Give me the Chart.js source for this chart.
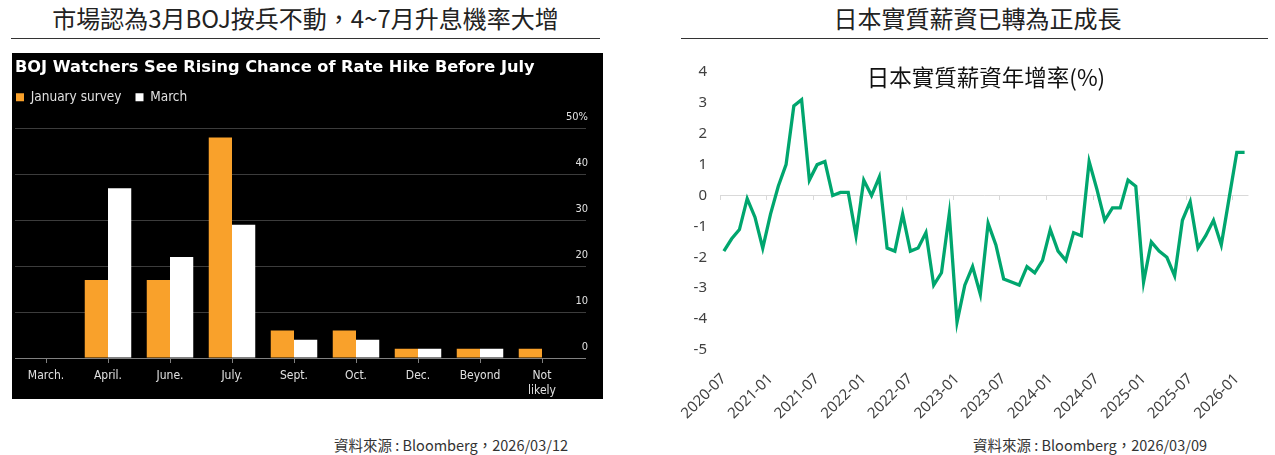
<!DOCTYPE html>
<html>
<head>
<meta charset="utf-8">
<script src="https://cdn.jsdelivr.net/npm/chart.js@4.4.1/dist/chart.umd.min.js"></script>
<style>
  body { margin: 0; width: 1275px; height: 455px; background: #fff; position: relative; overflow: hidden; }
  .hd { position: absolute; top: 3px; height: 30px; line-height: 30px; text-align: center;
        font-family: "Noto Sans CJK TC", sans-serif; font-size: 24px; color: #222; }
  .rule { position: absolute; top: 38px; height: 1px; background: #333; }
  .src { position: absolute; top: 434px; font-family: "Noto Sans CJK TC", sans-serif; font-size: 14.5px; color: #333; white-space: nowrap; }
  #bojChart { position: absolute; left: 12px; top: 53px; background: #000; }
  #wageChart { position: absolute; left: 660px; top: 50px; }
  #wageTitle { position: absolute; left: 860px; width: 252px; top: 60px; text-align: center;
               font-family: "Noto Sans CJK TC", sans-serif; font-size: 22.5px; line-height: 32px; color: #111; }
</style>
</head>
<body>
<div class="hd" style="left:11px;width:589px">市場認為3月BOJ按兵不動，4~7月升息機率大增</div>
<div class="rule" style="left:11px;width:589px"></div>
<canvas id="bojChart" width="591" height="346"></canvas>
<div class="src" style="right:707px">資料來源 : Bloomberg，2026/03/12</div>

<div class="hd" style="left:681px;width:593px">日本實質薪資已轉為正成長</div>
<div class="rule" style="left:681px;width:587px"></div>
<canvas id="wageChart" width="610" height="380"></canvas>
<div id="wageTitle">日本實質薪資年增率(%)</div>
<div class="src" style="right:68px">資料來源 : Bloomberg，2026/03/09</div>

<script>
// 左圖：BOJ 升息時點調查 (%)
const bojMonths = ['March.', 'April.', 'June.', 'July.', 'Sept.', 'Oct.', 'Dec.', 'Beyond', ['Not', 'likely']];
const januarySurvey = [0, 17, 17, 48, 6, 6, 2, 2, 2];
const marchSurvey = [0, 37, 22, 29, 4, 4, 2, 2, 0];

// 右圖：日本實質薪資年增率 (%)
const wageMonths = [
  '2020-07', '2020-08', '2020-09', '2020-10', '2020-11', '2020-12',
  '2021-01', '2021-02', '2021-03', '2021-04', '2021-05', '2021-06',
  '2021-07', '2021-08', '2021-09', '2021-10', '2021-11', '2021-12',
  '2022-01', '2022-02', '2022-03', '2022-04', '2022-05', '2022-06',
  '2022-07', '2022-08', '2022-09', '2022-10', '2022-11', '2022-12',
  '2023-01', '2023-02', '2023-03', '2023-04', '2023-05', '2023-06',
  '2023-07', '2023-08', '2023-09', '2023-10', '2023-11', '2023-12',
  '2024-01', '2024-02', '2024-03', '2024-04', '2024-05', '2024-06',
  '2024-07', '2024-08', '2024-09', '2024-10', '2024-11', '2024-12',
  '2025-01', '2025-02', '2025-03', '2025-04', '2025-05', '2025-06',
  '2025-07', '2025-08', '2025-09', '2025-10', '2025-11', '2025-12',
  '2026-01', '2026-02'
];
const realWageYoY = [
  -1.8, -1.4, -1.1, -0.1, -0.7, -1.7,
  -0.6, 0.3, 1.0, 2.9, 3.1, 0.5,
  1.0, 1.1, 0.0, 0.1, 0.1, -1.3,
  0.5, 0.0, 0.6, -1.7, -1.8, -0.6,
  -1.8, -1.7, -1.2, -2.9, -2.5, -0.6,
  -4.1, -2.9, -2.3, -3.2, -0.9, -1.6,
  -2.7, -2.8, -2.9, -2.3, -2.5, -2.1,
  -1.1, -1.8, -2.1, -1.2, -1.3, 1.1,
  0.2, -0.8, -0.4, -0.4, 0.5, 0.3,
  -2.8, -1.5, -1.8, -2.0, -2.6, -0.8,
  -0.2, -1.7, -1.3, -0.8, -1.6, -0.1,
  1.4, 1.4
];
const bojTicks = [0, 10, 20, 30, 40, 50];

const condensed = '"DejaVu Sans Condensed", "Liberation Sans Narrow", "DejaVu Sans", sans-serif';

// 圖例與圖表之間多留一點空間，並讓圖例與標題左緣對齊
const legendGap = {
  id: 'legendGap',
  beforeInit(chart) {
    const fit = chart.legend.fit;
    chart.legend.fit = function () {
      fit.call(this);
      this.height += 10.5;
    };
  },
  afterLayout(chart) {
    chart.legend.left -= 13;
    chart.legend.top -= 4;
  }
};

new Chart(document.getElementById('bojChart'), {
  type: 'bar',
  data: {
    labels: bojMonths,
    datasets: [
      { label: 'January survey', data: januarySurvey, backgroundColor: '#f9a12b',
        categoryPercentage: 0.75, barPercentage: 1 },
      { label: 'March', data: marchSurvey, backgroundColor: '#ffffff',
        categoryPercentage: 0.75, barPercentage: 1 }
    ]
  },
  options: {
    responsive: false,
    animation: false,
    layout: { padding: { left: 3, right: 15, top: 0, bottom: 0 } },
    plugins: {
      title: {
        display: true,
        text: 'BOJ Watchers See Rising Chance of Rate Hike Before July',
        align: 'start',
        color: '#ffffff',
        font: { family: '"DejaVu Sans", sans-serif', weight: 'bold', size: 16.2 },
        padding: { top: 5, bottom: 3 }
      },
      legend: {
        align: 'start',
        labels: { color: '#e0e0e0', boxWidth: 8, boxHeight: 8, padding: 14,
                  font: { family: condensed, size: 13.5 } }
      },
      tooltip: { enabled: false }
    },
    scales: {
      x: {
        grid: { drawOnChartArea: false, drawTicks: true, tickLength: 5, offset: false, color: '#808080' },
        border: { color: '#808080' },
        ticks: { color: '#e0e0e0', font: { family: condensed, size: 12 }, padding: 6,
                 maxRotation: 0, autoSkip: false },
        afterFit: s => { s.height = 41; }
      },
      y: {
        position: 'right',
        min: 0,
        max: 50,
        afterBuildTicks: s => { s.ticks = bojTicks.map(v => ({ value: v })); },
        ticks: {
          color: '#e0e0e0', font: { family: condensed, size: 11 },
          mirror: true, crossAlign: 'near', padding: 15, labelOffset: -11,
          callback: v => v === 50 ? '50%' : String(v)
        },
        grid: { color: c => c.tick && c.tick.value === 0 ? '#808080' : '#3c3c3c', tickLength: 13 },
        border: { display: false },
        afterFit: s => { s.width = 15; }
      }
    }
  },
  plugins: [legendGap]
});

new Chart(document.getElementById('wageChart'), {
  type: 'line',
  data: {
    labels: wageMonths,
    datasets: [{
      label: '日本實質薪資年增率(%)',
      data: realWageYoY,
      borderColor: '#00a66e',
      borderWidth: 3.3,
      pointRadius: 0,
      tension: 0,
      fill: false
    }]
  },
  options: {
    responsive: false,
    animation: false,
    layout: { padding: { left: 0, top: 21, right: 21, bottom: 0 } },
    plugins: { legend: { display: false }, tooltip: { enabled: false } },
    scales: {
      x: {
        offset: true,
        grid: { display: false, drawTicks: false },
        border: { display: false },
        ticks: {
          autoSkip: false, minRotation: 45, maxRotation: 45, padding: 20,
          color: '#404040', font: { family: '"Noto Sans", sans-serif', size: 15 },
          callback: function (v, i) { return i % 6 === 0 ? this.getLabelForValue(v) : null; }
        },
        afterFit: s => { s.height = 80; }
      },
      xz: {
        type: 'category',
        position: { y: 0 },
        offset: true,
        ticks: { display: false, autoSkip: false },
        grid: {
          offset: true, drawOnChartArea: false, drawTicks: true, tickLength: 4,
          color: c => c.index % 6 === 0 ? '#d9d9d9' : 'rgba(0,0,0,0)'
        },
        border: { display: false }
      },
      y: {
        min: -5,
        max: 4,
        ticks: { stepSize: 1, padding: 13, color: '#404040', font: { family: '"Noto Sans", sans-serif', size: 15 } },
        grid: { drawTicks: false, color: c => c.tick && c.tick.value === 0 ? '#d9d9d9' : 'rgba(0,0,0,0)' },
        border: { display: false },
        afterFit: s => { s.width = 60; }
      }
    }
  }
});
</script>
</body>
</html>
